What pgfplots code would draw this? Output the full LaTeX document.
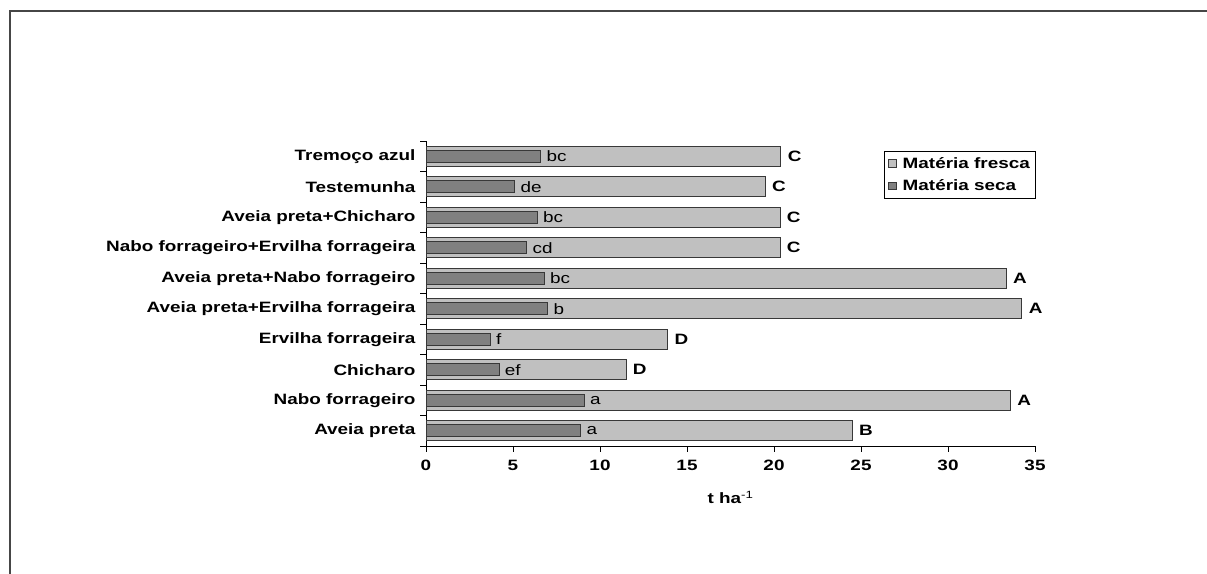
\documentclass[border=0pt]{standalone}
\usepackage{pgfplots}
\pgfplotsset{compat=1.18}
\usepackage{fontspec}
\setmainfont{Liberation Sans}[FakeStretch=1.26]
\newcommand\cf{\fontsize{15bp}{18bp}\selectfont}
\definecolor{fresca}{HTML}{C0C0C0}
\definecolor{seca}{HTML}{808080}
\definecolor{edge}{HTML}{383838}

\begin{document}
\begin{tikzpicture}
\path[use as bounding box] (0,0) rectangle (1207bp,574bp);
\draw[draw=gray!55!black, line width=2bp] (9.5bp,0) -- (9.5bp,563bp) -- (1208bp,563bp);
\begin{axis}[
  at={(426bp,128bp)}, anchor=south west,
  scale only axis, width=609bp, height=305bp,
  xbar, bar shift=0pt, clip=false,
  xmin=0, xmax=35, ymin=-0.5, ymax=9.5,
  axis x line*=bottom, axis y line*=left,
  axis line style={-, draw=black, line width=0.9bp},
  tick align=outside, major tick length=6bp,
  tick style={draw=black, line width=0.9bp},
  xtick={0,5,...,35},
  ytick={-0.5,0.5,...,9.5}, yticklabels={},
  extra y ticks={0,...,9},
  extra y tick labels={Aveia preta, Nabo forrageiro, Chicharo, Ervilha forrageira, Aveia preta+Ervilha forrageira, Aveia preta+Nabo forrageiro, Nabo forrageiro+Ervilha forrageira, Aveia preta+Chicharo, Testemunha, Tremoço azul},
  extra y tick style={major tick length=0pt, yticklabel style={xshift=-7bp}},
  ticklabel style={font=\cf\bfseries},
  /pgf/number format/assume math mode=true,
  xticklabel style={yshift=-5bp},
  xlabel={t ha\textsuperscript{\mdseries -1}},
  xlabel style={font=\cf\bfseries, at={(axis description cs:0.5,-0.17)}, anchor=center},
  legend style={at={(1.002,0.967)}, anchor=north east, draw=black, line width=0.8bp,
    font=\cf\bfseries, cells={anchor=west}, row sep=6bp, inner xsep=4bp, inner ysep=4bp},
  legend image code/.code={\draw[#1, line width=0.6bp] (0bp,-3.5bp) rectangle (8bp,4bp);
    \path[draw=none, fill=none] (0bp,0bp) rectangle (12bp,0.1bp);},
]
\addplot[fill=fresca, draw=edge, line width=1bp, bar width=0.66,
  nodes near coords, point meta=explicit symbolic,
  every node near coord/.append style={anchor=west, xshift=3bp, font=\cf\bfseries, text=black}]
  coordinates {
  (24.5,0) [B]
  (33.6,1) [A]
  (11.5,2) [D]
  (13.9,3) [D]
  (34.25,4) [A]
  (33.35,5) [A]
  (20.35,6) [C]
  (20.35,7) [C]
  (19.5,8) [C]
  (20.4,9) [C]
  };
\addlegendentry{Matéria fresca}
\addplot[fill=seca, draw=edge, line width=1bp, bar width=0.38,
  nodes near coords, point meta=explicit symbolic,
  every node near coord/.append style={anchor=west, xshift=2bp, font=\cf, text=black}]
  coordinates {
  (8.9,0) [a]
  (9.1,1) [a]
  (4.2,2) [ef]
  (3.7,3) [f]
  (7.0,4) [b]
  (6.8,5) [bc]
  (5.8,6) [cd]
  (6.4,7) [bc]
  (5.1,8) [de]
  (6.6,9) [bc]
  };
\addlegendentry{Matéria seca}
\end{axis}
\end{tikzpicture}
\end{document}
